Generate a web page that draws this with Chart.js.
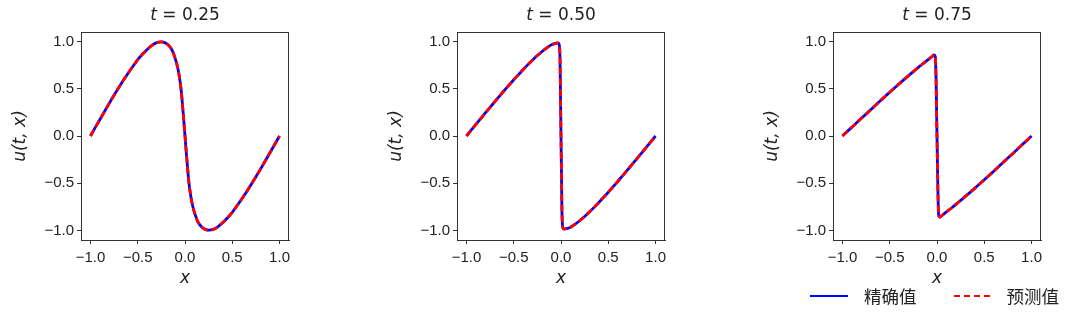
<!DOCTYPE html>
<html>
<head>
<meta charset="utf-8">
<script src="https://cdn.jsdelivr.net/npm/chart.js@4.4.0/dist/chart.umd.min.js"></script>
<style>
  body { margin: 0; background: #fff; width: 1080px; height: 322px; overflow: hidden; position: relative; }
  canvas { position: absolute; top: 0; }
  #legend { position: absolute; top: 283px; left: 810px; display: flex; align-items: center;
            font-family: 'Noto Sans CJK SC', sans-serif; font-size: 17.5px; color: #222; }
  .ln { display: inline-block; height: 0; }
</style>
</head>
<body>
<canvas id="c1" width="300" height="322" style="left:0px"></canvas>
<canvas id="c2" width="300" height="322" style="left:376px"></canvas>
<canvas id="c3" width="300" height="322" style="left:752px"></canvas>
<div id="legend">
  <span class="ln" style="width:38px;border-top:2.5px solid #0000ff;margin-right:16px"></span>
  <span style="margin-right:37px">精确值</span>
  <span class="ln" style="width:36px;border-top:2.5px dashed #ff0000;margin-right:17px"></span>
  <span>预测值</span>
</div>
<script>
// time of each snapshot
const tLabels = ['0.25', '0.50', '0.75'];
const seriesNames = ['精确值', '预测值'];

// axis ticks
const xTicks = [-1, -0.5, 0, 0.5, 1];
const xTickLabels = ['−1.0', '−0.5', '0.0', '0.5', '1.0'];
const yTicks = [-1, -0.5, 0, 0.5, 1];
const yTickLabels = ['−1.0', '−0.5', '0.0', '0.5', '1.0'];

// t = 0.25
const x025 = [-1.0, -0.95, -0.9, -0.85, -0.8, -0.75, -0.7, -0.65, -0.6, -0.55, -0.5, -0.45, -0.4, -0.35, -0.3, -0.25,
  -0.22, -0.18, -0.14, -0.11, -0.08, -0.06, -0.04, -0.02, -0.01, 0.0,
  0.01, 0.02, 0.04, 0.06, 0.08, 0.11, 0.14, 0.18, 0.22,
  0.25, 0.3, 0.35, 0.4, 0.45, 0.5, 0.55, 0.6, 0.65, 0.7, 0.75, 0.8, 0.85, 0.9, 0.95, 1.0];
const exact025 = [0.0, 0.088, 0.175, 0.262, 0.348, 0.432, 0.513, 0.592, 0.667, 0.738, 0.807, 0.864, 0.916, 0.958, 0.988, 0.995,
  0.99, 0.965, 0.915, 0.84, 0.735, 0.63, 0.48, 0.25, 0.13, 0.0,
  -0.13, -0.25, -0.48, -0.63, -0.735, -0.84, -0.915, -0.965, -0.99,
  -0.995, -0.988, -0.958, -0.916, -0.864, -0.807, -0.738, -0.667, -0.592, -0.513, -0.432, -0.348, -0.262, -0.175, -0.088, 0.0];
const pred025 = [0.0, 0.088, 0.175, 0.262, 0.348, 0.432, 0.513, 0.592, 0.667, 0.738, 0.807, 0.864, 0.916, 0.958, 0.988, 0.995,
  0.99, 0.965, 0.915, 0.84, 0.735, 0.63, 0.48, 0.25, 0.13, 0.0,
  -0.13, -0.25, -0.48, -0.63, -0.735, -0.84, -0.915, -0.965, -0.99,
  -0.995, -0.988, -0.958, -0.916, -0.864, -0.807, -0.738, -0.667, -0.592, -0.513, -0.432, -0.348, -0.262, -0.175, -0.088, 0.0];

// t = 0.50
const x050 = [-1.0, -0.95, -0.9, -0.85, -0.8, -0.75, -0.7, -0.65, -0.6, -0.55, -0.5, -0.45, -0.4, -0.35, -0.3, -0.25,
  -0.2, -0.15, -0.1, -0.06, -0.035, -0.02, -0.01, -0.005, 0.0,
  0.005, 0.01, 0.02, 0.035, 0.06, 0.1, 0.15, 0.2,
  0.25, 0.3, 0.35, 0.4, 0.45, 0.5, 0.55, 0.6, 0.65, 0.7, 0.75, 0.8, 0.85, 0.9, 0.95, 1.0];
const exact050 = [0.0, 0.061, 0.122, 0.183, 0.244, 0.303, 0.363, 0.422, 0.481, 0.538, 0.595, 0.649, 0.703, 0.755, 0.804, 0.851,
  0.894, 0.933, 0.965, 0.98, 0.985, 0.97, 0.8, 0.4, 0.0,
  -0.4, -0.8, -0.97, -0.985, -0.98, -0.965, -0.933, -0.894,
  -0.851, -0.804, -0.755, -0.703, -0.649, -0.595, -0.538, -0.481, -0.422, -0.363, -0.303, -0.244, -0.183, -0.122, -0.061, 0.0];
const pred050 = [0.0, 0.061, 0.122, 0.183, 0.244, 0.303, 0.363, 0.422, 0.481, 0.538, 0.595, 0.649, 0.703, 0.755, 0.804, 0.851,
  0.894, 0.933, 0.965, 0.98, 0.985, 0.97, 0.8, 0.4, 0.0,
  -0.4, -0.8, -0.97, -0.985, -0.98, -0.965, -0.933, -0.894,
  -0.851, -0.804, -0.755, -0.703, -0.649, -0.595, -0.538, -0.481, -0.422, -0.363, -0.303, -0.244, -0.183, -0.122, -0.061, 0.0];

// t = 0.75
const x075 = [-1.0, -0.95, -0.9, -0.85, -0.8, -0.75, -0.7, -0.65, -0.6, -0.55, -0.5, -0.45, -0.4, -0.35, -0.3, -0.25,
  -0.2, -0.15, -0.1, -0.05, -0.03, -0.018, -0.01, -0.005, 0.0,
  0.005, 0.01, 0.018, 0.03, 0.05, 0.1, 0.15, 0.2,
  0.25, 0.3, 0.35, 0.4, 0.45, 0.5, 0.55, 0.6, 0.65, 0.7, 0.75, 0.8, 0.85, 0.9, 0.95, 1.0];
const exact075 = [0.0, 0.047, 0.093, 0.14, 0.187, 0.233, 0.279, 0.326, 0.372, 0.418, 0.463, 0.508, 0.552, 0.596, 0.639, 0.681,
  0.723, 0.764, 0.803, 0.842, 0.857, 0.84, 0.6, 0.3, 0.0,
  -0.3, -0.6, -0.84, -0.857, -0.842, -0.803, -0.764, -0.723,
  -0.681, -0.639, -0.596, -0.552, -0.508, -0.463, -0.418, -0.372, -0.326, -0.279, -0.233, -0.187, -0.14, -0.093, -0.047, 0.0];
const pred075 = [0.0, 0.047, 0.093, 0.14, 0.187, 0.233, 0.279, 0.326, 0.372, 0.418, 0.463, 0.508, 0.552, 0.596, 0.639, 0.681,
  0.723, 0.764, 0.803, 0.842, 0.857, 0.84, 0.6, 0.3, 0.0,
  -0.3, -0.6, -0.84, -0.857, -0.842, -0.803, -0.764, -0.723,
  -0.681, -0.639, -0.596, -0.552, -0.508, -0.463, -0.418, -0.372, -0.326, -0.279, -0.233, -0.187, -0.14, -0.093, -0.047, 0.0];

const textColor = '#222';
const axisColor = '#333';
const tickFont = { family: "'Liberation Sans', Arial, sans-serif", size: 15 };
const mathFont = "'DejaVu Sans', sans-serif";

// box round the plot area and the "t = ..." title
const framePlugin = {
  id: 'frame',
  afterDraw(chart, args, opts) {
    const ctx = chart.ctx;
    const a = chart.chartArea;
    ctx.save();
    ctx.strokeStyle = axisColor;
    ctx.lineWidth = 1;
    ctx.strokeRect(Math.round(a.left) + 0.5, Math.round(a.top) + 0.5, Math.round(a.right - a.left) - 1, Math.round(a.bottom - a.top));
    ctx.fillStyle = textColor;
    ctx.textBaseline = 'middle';
    ctx.font = 'italic 17px ' + mathFont;
    const w1 = ctx.measureText('t').width;
    ctx.font = '17px ' + mathFont;
    const rest = ' = ' + opts.t;
    const w2 = ctx.measureText(rest).width;
    const x0 = (a.left + a.right) / 2 - (w1 + w2) / 2;
    ctx.font = 'italic 17px ' + mathFont;
    ctx.fillText('t', x0, 16);
    ctx.font = '17px ' + mathFont;
    ctx.fillText(rest, x0 + w1, 16);
    ctx.restore();
  }
};

function toPoints(xs, ys) {
  return xs.map((x, i) => ({ x: x, y: ys[i] }));
}

function makeChart(id, t, xs, exact, pred) {
  new Chart(document.getElementById(id).getContext('2d'), {
    type: 'line',
    data: {
      datasets: [{
        label: seriesNames[1],
        data: toPoints(xs, pred),
        borderColor: '#ff0000',
        borderWidth: 2.8,
        borderDash: [7, 3.5],
        pointRadius: 0,
        cubicInterpolationMode: 'monotone',
        order: 0
      }, {
        label: seriesNames[0],
        data: toPoints(xs, exact),
        borderColor: '#0000ff',
        borderWidth: 2.8,
        pointRadius: 0,
        cubicInterpolationMode: 'monotone',
        order: 1
      }]
    },
    options: {
      responsive: false,
      animation: false,
      layout: { padding: { left: 0, right: 11, top: 32, bottom: 0 } },
      plugins: {
        legend: { display: false },
        tooltip: { enabled: false },
        frame: { t: t }
      },
      scales: {
        x: {
          type: 'linear',
          min: -1.1,
          max: 1.1,
          afterBuildTicks: function (s) { s.ticks = xTicks.map(v => ({ value: v })); },
          afterFit: function (s) { s.height = 82; },
          ticks: {
            autoSkip: false,
            maxRotation: 0,
            padding: 5,
            color: textColor,
            font: tickFont,
            callback: function (value) { return xTickLabels[xTicks.indexOf(value)]; }
          },
          grid: { drawOnChartArea: false, tickLength: 4, color: axisColor },
          border: { color: axisColor },
          title: {
            display: true,
            text: 'x',
            color: textColor,
            font: { family: mathFont, size: 17, style: 'italic' },
            padding: { top: 0, bottom: 33 }
          }
        },
        y: {
          type: 'linear',
          min: -1.1,
          max: 1.1,
          afterBuildTicks: function (s) { s.ticks = yTicks.map(v => ({ value: v })); },
          afterFit: function (s) { s.width = 81; },
          ticks: {
            autoSkip: false,
            padding: 3,
            color: textColor,
            font: tickFont,
            callback: function (value) { return yTickLabels[yTicks.indexOf(value)]; }
          },
          grid: { drawOnChartArea: false, tickLength: 4, color: axisColor },
          border: { color: axisColor },
          title: {
            display: true,
            text: 'u(t, x)',
            color: textColor,
            font: { family: mathFont, size: 17, style: 'italic' },
            padding: { top: 10, bottom: 0 }
          }
        }
      }
    },
    plugins: [framePlugin]
  });
}

makeChart('c1', tLabels[0], x025, exact025, pred025);
makeChart('c2', tLabels[1], x050, exact050, pred050);
makeChart('c3', tLabels[2], x075, exact075, pred075);
</script>
</body>
</html>
